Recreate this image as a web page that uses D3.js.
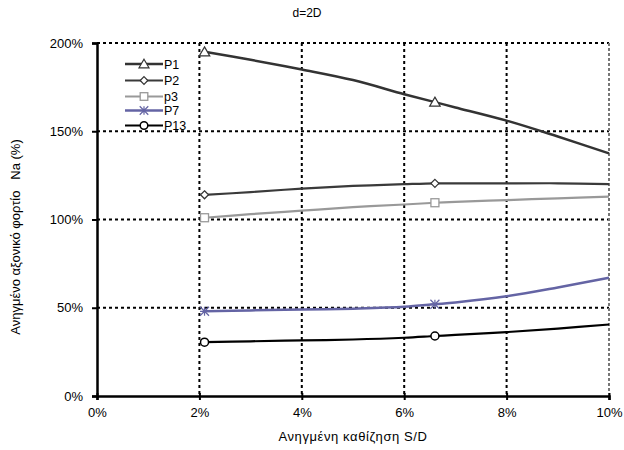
<!DOCTYPE html>
<html><head><meta charset="utf-8">
<script src="https://cdn.jsdelivr.net/npm/d3@7/dist/d3.min.js"></script>
<style>body{margin:0;background:#fff}svg{display:block}text{font-family:"Liberation Sans",Arial,sans-serif;fill:#000}</style>
</head><body><svg id="c" width="624" height="450"></svg>
<script>
const sd = [2.1, 3, 4, 5, 6, 6.6, 7, 8, 9, 10];
const markerAt = [2.1, 6.6];
const P1  = [195, 190.5, 185, 179, 171, 166.5, 163.5, 156, 147, 137.5];
const P2  = [114, 115.5, 117.5, 119, 120, 120.5, 120.5, 120.5, 120.5, 120];
const p3  = [101, 103, 105, 107, 108.5, 109.5, 110, 111, 112, 113];
const P7  = [48, 48.5, 49, 49.5, 50.5, 52, 53, 56.5, 61.5, 67];
const P13 = [30.5, 31, 31.5, 32, 33, 34, 34.6, 36.2, 38.2, 40.5];
const seriesNames = ["P1", "P2", "p3", "P7", "P13"];
const xTicks = [0, 2, 4, 6, 8, 10];
const yTicks = [0, 50, 100, 150, 200];

const styles = {
  P1: {color:"#333333", w:2.5, sym:"tri", mstroke:"#333333"},
  P2: {color:"#3a3a3a", w:2.2, sym:"dia", mstroke:"#333333"},
  p3: {color:"#999999", w:2.2, sym:"sq", mstroke:"#999999"},
  P7: {color:"#6464a4", w:2.5, sym:"star", mstroke:"#6464a4"},
  P13:{color:"#000000", w:2.2, sym:"circ", mstroke:"#000000"}
};
const data = {P1, P2, p3, P7, P13};

const svg = d3.select("#c");
const m = {l:97, r:609, t:43, b:396};
const x = d3.scaleLinear().domain([0,10]).range([m.l, m.r]);
const y = d3.scaleLinear().domain([0,200]).range([m.b, m.t]);

const g = svg.append("g");
xTicks.filter(t => t > 0 && t < 10).forEach(t => {
  g.append("line").attr("x1", x(t)).attr("x2", x(t)).attr("y1", m.t).attr("y2", m.b)
   .attr("stroke","#000").attr("stroke-width",2).attr("stroke-dasharray","3,3");
});
yTicks.filter(t => t > 0 && t < 200).forEach(t => {
  g.append("line").attr("x1", m.l).attr("x2", m.r).attr("y1", y(t)).attr("y2", y(t))
   .attr("stroke","#000").attr("stroke-width",2).attr("stroke-dasharray","3,3");
});
g.append("line").attr("x1", m.l).attr("x2", m.r).attr("y1", y(200)).attr("y2", y(200))
 .attr("stroke","#000").attr("stroke-width",2).attr("stroke-dasharray","3,3");
g.append("line").attr("x1", x(10)).attr("x2", x(10)).attr("y1", m.t).attr("y2", m.b)
 .attr("stroke","#777").attr("stroke-width",2).attr("stroke-dasharray","3,2");

const xAxis = d3.axisBottom(x).tickValues(xTicks).tickFormat(d => d + "%").tickSize(4).tickPadding(8);
const yAxis = d3.axisLeft(y).tickValues(yTicks).tickFormat(d => d + "%").tickSize(5).tickPadding(9);
const ax = svg.append("g").attr("transform", `translate(0,${m.b})`).call(xAxis);
const ay = svg.append("g").attr("transform", `translate(${m.l},0)`).call(yAxis);
[ax, ay].forEach(a => {
  a.select(".domain").attr("stroke","#000").attr("stroke-width",2.5);
  a.selectAll(".tick line").attr("stroke","#000").attr("stroke-width",2);
  a.selectAll(".tick text").attr("font-size",13).attr("font-family","Liberation Sans, Arial, sans-serif").attr("fill","#000");
});
ax.selectAll(".tick line").attr("y1",-3);

const line = d3.line().x(d => x(d[0])).y(d => y(d[1])).curve(d3.curveCatmullRom.alpha(0.5));
function symbol(sel, sym, cx, cy, st, scale){
  scale = scale || 1;
  if (sym === "tri") {
    const s = 5*scale;
    sel.append("path").attr("d", `M${cx},${cy-s} L${cx+s*1.05},${cy+s*0.8} L${cx-s*1.05},${cy+s*0.8} Z`)
      .attr("fill","#fff").attr("stroke",st.mstroke).attr("stroke-width",1.2);
  } else if (sym === "dia") {
    const s = 4*scale;
    sel.append("path").attr("d", `M${cx},${cy-s} L${cx+s},${cy} L${cx},${cy+s} L${cx-s},${cy} Z`)
      .attr("fill","#fff").attr("stroke",st.mstroke).attr("stroke-width",1.2);
  } else if (sym === "sq") {
    const s = 4*scale;
    sel.append("rect").attr("x",cx-s).attr("y",cy-s).attr("width",2*s).attr("height",2*s)
      .attr("fill","#fff").attr("stroke",st.mstroke).attr("stroke-width",1.3);
  } else if (sym === "star") {
    const s = 4.5*scale;
    const p = `M${cx-s},${cy-s}L${cx+s},${cy+s}M${cx-s},${cy+s}L${cx+s},${cy-s}M${cx},${cy-s}L${cx},${cy+s}M${cx-s},${cy}L${cx+s},${cy}`;
    sel.append("path").attr("d", p).attr("stroke",st.mstroke).attr("stroke-width",1.2).attr("fill","none");
  } else if (sym === "circ") {
    sel.append("circle").attr("cx",cx).attr("cy",cy).attr("r",4*scale)
      .attr("fill","#fff").attr("stroke",st.mstroke).attr("stroke-width",1.5);
  }
}
const lg = svg.append("g");
seriesNames.forEach(name => {
  const st = styles[name];
  const pts = sd.map((v,i) => [v, data[name][i]]);
  lg.append("path").attr("d", line(pts)).attr("fill","none").attr("stroke", st.color).attr("stroke-width", st.w);
  markerAt.forEach(mx => {
    const i = sd.indexOf(mx);
    symbol(lg, st.sym, x(sd[i]), y(data[name][i]), st);
  });
});

const legY = [64, 80.5, 96.5, 110.5, 125.5];
const leg = svg.append("g");
seriesNames.forEach((name, i) => {
  const st = styles[name];
  leg.append("line").attr("x1",125).attr("x2",163).attr("y1",legY[i]).attr("y2",legY[i])
    .attr("stroke",st.color).attr("stroke-width",st.w);
  symbol(leg, st.sym, 144, legY[i], st, 0.95);
  leg.append("text").attr("x",164).attr("y",legY[i]+4.5).attr("font-size",12.5).text(name);
});

svg.append("text").attr("x",307).attr("y",17).attr("text-anchor","middle").attr("font-size",12).text("d=2D");
svg.append("text").attr("x",353).attr("y",441).attr("text-anchor","middle").attr("font-size",13)
  .attr("letter-spacing",0.6).text("Ανηγμένη καθίζηση S/D");
svg.append("text").attr("transform","translate(20,237) rotate(-90)").attr("text-anchor","middle").attr("font-size",13)
  .style("white-space","pre").text("Ανηγμένο αξονικό φορτίο   Na (%)");
</script></body></html>
